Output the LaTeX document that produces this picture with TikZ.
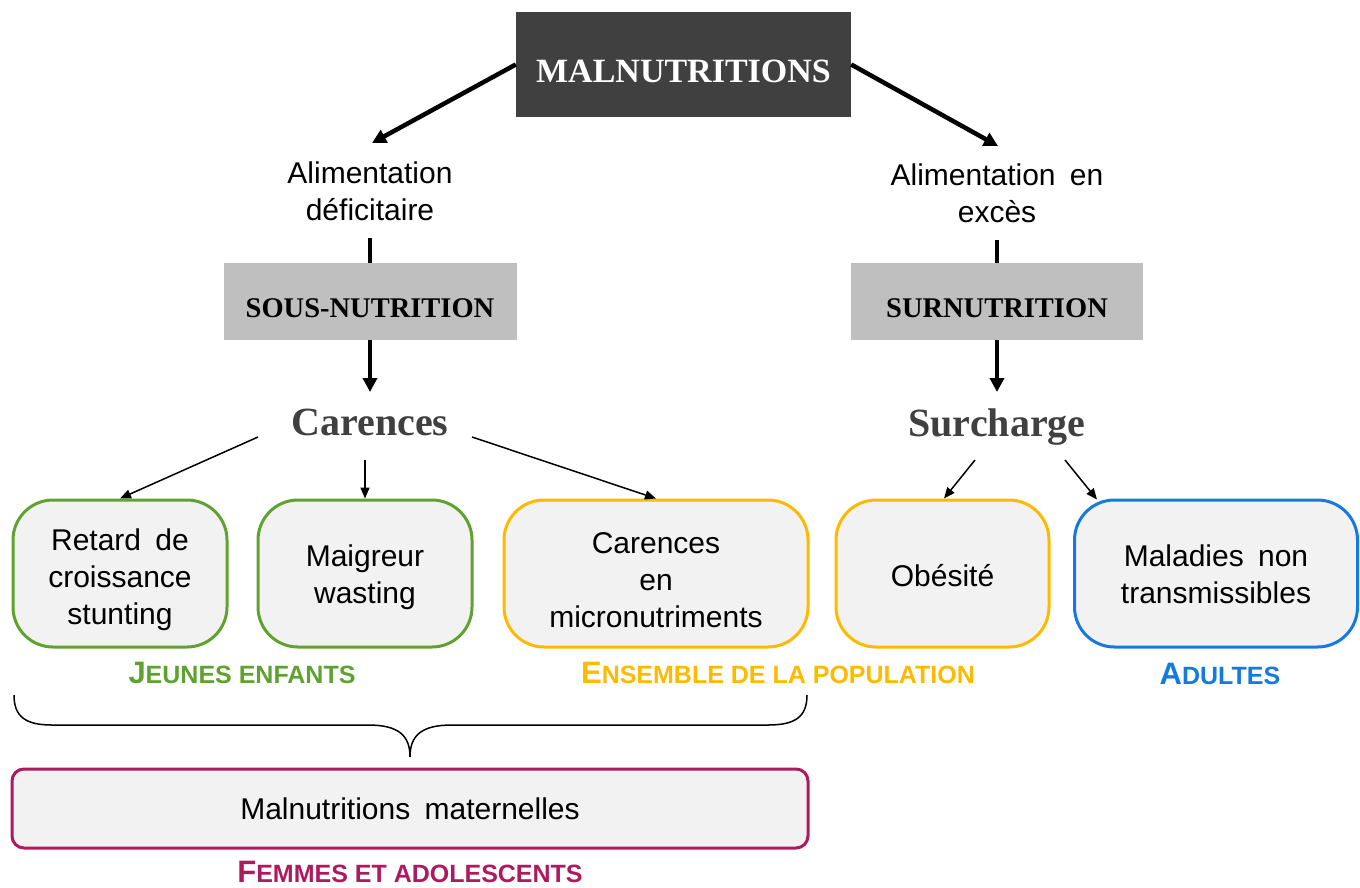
\documentclass[tikz,border=0pt]{standalone}
\usepackage{fontspec}
\setmainfont{Liberation Serif}
\newfontfamily\arialf{Liberation Sans}
\usetikzlibrary{arrows.meta}
\definecolor{cdark}{HTML}{404040}
\definecolor{cgrayb}{HTML}{BFBFBF}
\definecolor{cfill}{HTML}{F2F2F2}
\definecolor{cgreen}{HTML}{5FA22F}
\definecolor{corange}{HTML}{FFB900}
\definecolor{cblue}{HTML}{1479E0}
\definecolor{cmag}{HTML}{AE1A5E}
\begin{document}
\begin{tikzpicture}[x=1pt,y=-1pt,
  mainbox/.style={fill=cdark, text=white, minimum width=335pt, minimum height=105pt, inner sep=0pt, text height=35pt, text depth=0pt, font={\fontsize{34}{40}\selectfont\bfseries}},
  graybox/.style={fill=cgrayb, minimum width=293pt, minimum height=77pt, inner sep=0pt, text height=31pt, text depth=0pt, font={\fontsize{28.5}{34}\selectfont\bfseries}},
  alimtxt/.style={font={\arialf\fontsize{30}{37}\selectfont}, align=center, inner sep=0pt},
  bigtxt/.style={font={\fontsize{40}{48}\selectfont\bfseries}, text=cdark, inner sep=0pt},
  rbox/.style={draw, line width=3pt, fill=cfill, rounded corners=40pt, minimum height=147pt, align=center, inner sep=0pt, font={\arialf\fontsize{30}{37}\selectfont}},
  mbox/.style={rbox, rounded corners=12pt, minimum height=79pt},
  bigarrow/.style={line width=4.5pt, -{Triangle[length=14pt,width=14pt]}},
  plainline/.style={line width=4.5pt},
  thinarrow/.style={line width=1.5pt, -{Triangle[length=11pt,width=9pt]}},
  grouplabel/.style={font={\arialf\bfseries}, inner sep=0pt, anchor=base},
  bracestyle/.style={line width=1.5pt}
]
\useasboundingbox (0,0) rectangle (1360,887);

% top
\node[mainbox] (mal) at (683.5,64.5) {MALNUTRITIONS};
\node[alimtxt, anchor=north] (alimd) at (370,162) {Alimentation\\déficitaire};
\node[alimtxt, anchor=north] (alime) at (997,164) {Alimentation\hspace{6pt} en\\excès};
\draw[bigarrow] (mal.west) -- ([shift={(2,-19)}]alimd.north);
\draw[bigarrow] (mal.east) -- ([shift={(1,-18)}]alime.north);

% second level
\node[graybox] (sous) at (370,301.5) {SOUS-NUTRITION};
\node[graybox, minimum width=292pt] (sur) at (997,301.5) {SURNUTRITION};
\draw[plainline] ([shift={(0,17)}]alimd.south) -- (sous.north);
\draw[plainline] ([shift={(0,17)}]alime.south) -- (sur.north);

\node[bigtxt, anchor=base] (car) at (370,435) {Carences};
\node[bigtxt, anchor=base] (surc) at (997,436) {Surcharge};
\draw[bigarrow] (sous.south) -- ([shift={(0,-43)}]car.base);
\draw[bigarrow] (sur.south) -- ([shift={(0,-44)}]surc.base);

% boxes
\node[rbox, draw=cgreen, minimum width=214pt] (b1) at (120,573.5) {\rule{0pt}{35pt}Retard\hspace{6pt} de\\croissance\\stunting};
\node[rbox, draw=cgreen, minimum width=214pt] (b2) at (365,573.5) {\rule{0pt}{29pt}Maigreur\\wasting};
\node[rbox, draw=corange, minimum width=304pt] (b3) at (656,573.5) {\rule{0pt}{35pt}Carences\\en\\micronutriments};
\node[rbox, draw=corange, minimum width=213pt] (b4) at (942.5,573.5) {\rule{0pt}{27pt}Obésité};
\node[rbox, draw=cblue, minimum width=283pt] (b5) at (1216,573.5) {\rule{0pt}{24pt}Maladies\hspace{6pt} non\\transmissibles};

\draw[thinarrow] ([shift={(-112,2)}]car.base) -- (b1.north);
\draw[thinarrow] ([shift={(-5,25)}]car.base) -- (b2.north);
\draw[thinarrow] ([shift={(102,2)}]car.base) -- (b3.north);
\draw[thinarrow] ([shift={(-22,24)}]surc.base) -- ([shift={(1.5,0)}]b4.north);
\draw[thinarrow] ([shift={(68,24)}]surc.base) -- ([shift={(-119,1)}]b5.north);

% group labels
\node[grouplabel, text=cgreen] (ljeunes) at (242,683) {{\fontsize{31}{31}\selectfont J}{\fontsize{25}{25}\selectfont EUNES ENFANTS}};
\node[grouplabel, text=corange] (lens) at (778,683) {{\fontsize{31}{31}\selectfont E}{\fontsize{25}{25}\selectfont NSEMBLE DE LA POPULATION}};
\node[grouplabel, text=cblue] (ladu) at (1220,684) {{\fontsize{31}{31}\selectfont A}{\fontsize{25}{25}\selectfont DULTES}};

% brace
\draw[bracestyle] (14,695) .. controls (14,717) and (26,725) .. (52,725) -- (368,725)
  .. controls (398,725) and (410,735) .. (410,757)
  .. controls (410,735) and (422,725) .. (452,725) -- (768,725)
  .. controls (795,725) and (807,717) .. (807,695);

% maternal
\node[mbox, draw=cmag, minimum width=796pt] (mat) at (410,808.5) {Malnutritions\hspace{6pt} maternelles};
\node[grouplabel, text=cmag] (lfem) at (410,882) {{\fontsize{31}{31}\selectfont F}{\fontsize{25}{25}\selectfont EMMES ET ADOLESCENTS}};
\end{tikzpicture}
\end{document}
